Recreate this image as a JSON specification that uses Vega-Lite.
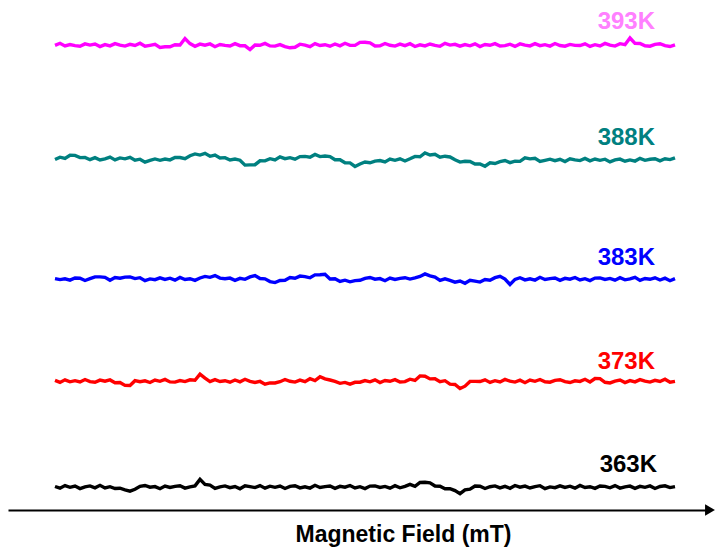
{
  "$schema": "https://vega.github.io/schema/vega-lite/v6.json",
  "width": 702,
  "height": 510,
  "autosize": {"type": "none"},
  "padding": {"left": 8, "right": 7, "top": 0, "bottom": 42},
  "background": "white",
  "config": {"view": {"stroke": null}},
  "datasets": {
    "epr": [
      {"x":55,"a":464.6,"b":350.5,"c":231.4,"d":129.6,"e":23.5},
      {"x":60,"a":466.7,"b":352.8,"c":230.4,"d":127.6,"e":21.8},
      {"x":65,"a":464.0,"b":351.6,"c":231.2,"d":130.2,"e":24.4},
      {"x":70,"a":465.5,"b":354.7,"c":229.9,"d":128.2,"e":22.7},
      {"x":75,"a":464.4,"b":354.6,"c":232.0,"d":129.3,"e":23.9},
      {"x":80,"a":463.7,"b":352.4,"c":231.7,"d":128.0,"e":21.4},
      {"x":85,"a":466.1,"b":352.6,"c":229.5,"d":130.5,"e":23.2},
      {"x":90,"a":464.9,"b":350.3,"c":231.3,"d":128.4,"e":24.1},
      {"x":95,"a":465.9,"b":352.3,"c":233.1,"d":127.7,"e":22.2},
      {"x":100,"a":463.4,"b":350.0,"c":233.1,"d":129.9,"e":24.7},
      {"x":105,"a":465.4,"b":351.1,"c":232.6,"d":128.8,"e":22.0},
      {"x":110,"a":464.1,"b":352.9,"c":229.7,"d":130.1,"e":23.3},
      {"x":115,"a":466.4,"b":350.1,"c":232.5,"d":127.3,"e":21.5},
      {"x":120,"a":464.8,"b":352.1,"c":231.8,"d":127.5,"e":21.8},
      {"x":125,"a":463.9,"b":351.2,"c":232.9,"d":124.6,"e":20.2},
      {"x":130,"a":465.7,"b":352.7,"c":233.0,"d":124.5,"e":18.9},
      {"x":135,"a":464.5,"b":349.8,"c":231.4,"d":129.3,"e":20.7},
      {"x":140,"a":466.8,"b":350.8,"c":232.3,"d":128.3,"e":23.7},
      {"x":145,"a":463.8,"b":347.8,"c":229.4,"d":129.2,"e":24.5},
      {"x":150,"a":464.7,"b":349.6,"c":231.1,"d":127.5,"e":22.8},
      {"x":155,"a":465.6,"b":351.1,"c":230.3,"d":130.0,"e":23.4},
      {"x":160,"a":462.6,"b":349.7,"c":232.2,"d":128.7,"e":21.3},
      {"x":165,"a":463.2,"b":351.0,"c":230.6,"d":130.6,"e":24.0},
      {"x":170,"a":463.2,"b":350.1,"c":231.8,"d":128.1,"e":22.5},
      {"x":175,"a":465.3,"b":352.5,"c":229.8,"d":127.9,"e":23.6},
      {"x":180,"a":465.0,"b":352.5,"c":232.6,"d":129.4,"e":24.3},
      {"x":185,"a":471.5,"b":351.3,"c":230.5,"d":128.4,"e":21.9},
      {"x":190,"a":466.4,"b":354.3,"c":231.3,"d":130.2,"e":23.1},
      {"x":195,"a":463.7,"b":356.1,"c":229.6,"d":129.7,"e":24.1},
      {"x":200,"a":465.9,"b":354.9,"c":232.0,"d":135.8,"e":30.6},
      {"x":205,"a":464.8,"b":356.6,"c":233.6,"d":131.9,"e":25.6},
      {"x":210,"a":466.1,"b":353.7,"c":232.7,"d":128.4,"e":24.9},
      {"x":215,"a":463.3,"b":355.0,"c":234.4,"d":130.4,"e":21.6},
      {"x":220,"a":465.5,"b":352.1,"c":231.9,"d":128.5,"e":23.2},
      {"x":225,"a":464.6,"b":352.4,"c":231.2,"d":129.3,"e":24.1},
      {"x":230,"a":464.0,"b":350.0,"c":231.9,"d":127.8,"e":22.3},
      {"x":235,"a":466.3,"b":350.9,"c":229.7,"d":130.0,"e":23.5},
      {"x":240,"a":464.3,"b":349.8,"c":231.7,"d":128.2,"e":21.2},
      {"x":245,"a":464.2,"b":344.9,"c":230.7,"d":130.7,"e":24.2},
      {"x":250,"a":460.5,"b":345.1,"c":233.1,"d":128.6,"e":23.3},
      {"x":255,"a":465.0,"b":345.3,"c":234.5,"d":127.6,"e":22.4},
      {"x":260,"a":464.7,"b":349.2,"c":231.5,"d":128.6,"e":24.4},
      {"x":265,"a":466.6,"b":349.1,"c":231.2,"d":125.8,"e":21.8},
      {"x":270,"a":464.1,"b":351.3,"c":228.4,"d":127.1,"e":23.8},
      {"x":275,"a":463.9,"b":350.0,"c":227.4,"d":127.0,"e":22.7},
      {"x":280,"a":465.4,"b":353.1,"c":229.5,"d":128.3,"e":24.0},
      {"x":285,"a":463.4,"b":351.3,"c":229.8,"d":130.5,"e":21.5},
      {"x":290,"a":462.2,"b":352.3,"c":232.4,"d":128.7,"e":23.6},
      {"x":295,"a":462.7,"b":350.8,"c":231.7,"d":127.9,"e":24.3},
      {"x":300,"a":465.8,"b":353.4,"c":233.9,"d":129.9,"e":22.1},
      {"x":305,"a":464.9,"b":353.6,"c":233.4,"d":128.4,"e":23.2},
      {"x":310,"a":463.4,"b":352.8,"c":232.2,"d":131.3,"e":21.9},
      {"x":315,"a":466.4,"b":355.6,"c":235.1,"d":129.5,"e":24.7},
      {"x":320,"a":464.5,"b":353.4,"c":235.2,"d":133.2,"e":22.5},
      {"x":325,"a":465.3,"b":354.0,"c":235.7,"d":131.1,"e":23.4},
      {"x":330,"a":463.8,"b":353.4,"c":231.0,"d":130.0,"e":24.0},
      {"x":335,"a":466.0,"b":350.2,"c":231.3,"d":128.6,"e":21.7},
      {"x":340,"a":464.2,"b":350.2,"c":228.5,"d":126.7,"e":23.7},
      {"x":345,"a":466.7,"b":347.2,"c":229.8,"d":127.6,"e":22.8},
      {"x":350,"a":464.6,"b":347.1,"c":228.2,"d":125.9,"e":24.5},
      {"x":355,"a":464.6,"b":343.5,"c":229.4,"d":127.7,"e":22.0},
      {"x":360,"a":467.6,"b":346.0,"c":229.7,"d":127.8,"e":23.3},
      {"x":365,"a":467.8,"b":348.0,"c":231.7,"d":129.4,"e":21.4},
      {"x":370,"a":467.1,"b":347.2,"c":232.5,"d":128.2,"e":23.9},
      {"x":375,"a":464.0,"b":348.9,"c":230.8,"d":130.2,"e":24.1},
      {"x":380,"a":464.3,"b":349.5,"c":231.4,"d":127.4,"e":22.6},
      {"x":385,"a":466.5,"b":348.0,"c":229.3,"d":129.5,"e":23.6},
      {"x":390,"a":464.7,"b":350.9,"c":232.0,"d":128.7,"e":21.8},
      {"x":395,"a":463.9,"b":349.7,"c":230.5,"d":130.4,"e":24.3},
      {"x":400,"a":465.9,"b":351.2,"c":231.6,"d":128.0,"e":22.2},
      {"x":405,"a":464.4,"b":349.0,"c":232.3,"d":128.4,"e":23.6},
      {"x":410,"a":466.3,"b":351.2,"c":230.9,"d":130.8,"e":25.6},
      {"x":415,"a":463.5,"b":353.6,"c":232.1,"d":129.6,"e":23.6},
      {"x":420,"a":465.2,"b":353.2,"c":233.6,"d":134.1,"e":27.5},
      {"x":425,"a":464.1,"b":357.0,"c":236.1,"d":133.8,"e":27.7},
      {"x":430,"a":466.0,"b":355.0,"c":234.1,"d":131.1,"e":27.2},
      {"x":435,"a":464.6,"b":355.8,"c":232.9,"d":131.3,"e":24.0},
      {"x":440,"a":463.7,"b":352.8,"c":229.6,"d":128.3,"e":23.8},
      {"x":445,"a":466.6,"b":353.8,"c":231.2,"d":129.3,"e":21.3},
      {"x":450,"a":464.9,"b":353.0,"c":229.6,"d":125.9,"e":21.4},
      {"x":455,"a":465.7,"b":350.2,"c":227.8,"d":125.5,"e":19.4},
      {"x":460,"a":463.8,"b":347.9,"c":229.0,"d":121.5,"e":16.4},
      {"x":465,"a":465.4,"b":348.7,"c":226.7,"d":123.8,"e":20.2},
      {"x":470,"a":464.2,"b":348.5,"c":229.7,"d":128.6,"e":20.9},
      {"x":475,"a":466.2,"b":346.0,"c":228.8,"d":128.6,"e":24.0},
      {"x":480,"a":463.4,"b":346.1,"c":227.9,"d":128.5,"e":23.7},
      {"x":485,"a":465.5,"b":343.8,"c":230.4,"d":130.2,"e":21.5},
      {"x":490,"a":464.7,"b":347.2,"c":229.8,"d":127.6,"e":23.3},
      {"x":495,"a":466.4,"b":346.5,"c":232.3,"d":129.3,"e":24.1},
      {"x":500,"a":464.0,"b":348.3,"c":233.7,"d":128.1,"e":22.1},
      {"x":505,"a":464.4,"b":349.5,"c":231.0,"d":130.6,"e":23.6},
      {"x":510,"a":465.8,"b":347.4,"c":225.5,"d":128.8,"e":21.7},
      {"x":515,"a":463.6,"b":348.8,"c":230.6,"d":127.9,"e":24.5},
      {"x":520,"a":466.1,"b":348.6,"c":232.3,"d":129.8,"e":22.8},
      {"x":525,"a":464.8,"b":352.1,"c":230.1,"d":127.3,"e":23.9},
      {"x":530,"a":464.1,"b":351.1,"c":231.2,"d":130.0,"e":22.0},
      {"x":535,"a":466.3,"b":351.7,"c":229.9,"d":128.7,"e":23.4},
      {"x":540,"a":464.3,"b":348.6,"c":232.7,"d":130.5,"e":24.3},
      {"x":545,"a":465.3,"b":349.7,"c":230.5,"d":128.2,"e":21.4},
      {"x":550,"a":463.9,"b":350.8,"c":231.4,"d":127.8,"e":23.1},
      {"x":555,"a":466.5,"b":349.3,"c":232.0,"d":129.6,"e":22.3},
      {"x":560,"a":464.5,"b":350.7,"c":229.7,"d":130.3,"e":24.2},
      {"x":565,"a":463.8,"b":348.5,"c":231.7,"d":128.3,"e":22.6},
      {"x":570,"a":465.6,"b":351.2,"c":230.8,"d":127.5,"e":23.8},
      {"x":575,"a":464.6,"b":350.1,"c":232.5,"d":129.2,"e":21.8},
      {"x":580,"a":464.5,"b":349.4,"c":230.0,"d":128.6,"e":24.6},
      {"x":585,"a":466.2,"b":351.6,"c":231.3,"d":130.7,"e":22.5},
      {"x":590,"a":463.6,"b":349.2,"c":229.4,"d":128.0,"e":23.3},
      {"x":595,"a":465.3,"b":351.0,"c":231.9,"d":131.5,"e":21.6},
      {"x":600,"a":464.1,"b":349.7,"c":232.1,"d":131.4,"e":24.0},
      {"x":605,"a":466.6,"b":350.8,"c":230.6,"d":127.7,"e":23.6},
      {"x":610,"a":464.8,"b":348.1,"c":231.6,"d":127.1,"e":22.2},
      {"x":615,"a":463.9,"b":350.1,"c":229.8,"d":128.9,"e":24.4},
      {"x":620,"a":466.3,"b":350.9,"c":232.3,"d":129.9,"e":21.9},
      {"x":625,"a":465.3,"b":348.8,"c":230.2,"d":127.4,"e":23.2},
      {"x":630,"a":472.0,"b":350.1,"c":231.1,"d":129.4,"e":23.9},
      {"x":635,"a":466.7,"b":348.9,"c":232.6,"d":128.1,"e":21.7},
      {"x":640,"a":466.5,"b":351.7,"c":229.6,"d":130.4,"e":23.7},
      {"x":645,"a":464.2,"b":349.7,"c":231.5,"d":128.8,"e":22.7},
      {"x":650,"a":463.8,"b":350.7,"c":230.7,"d":127.9,"e":24.1},
      {"x":655,"a":465.6,"b":351.3,"c":232.2,"d":129.7,"e":21.5},
      {"x":660,"a":466.3,"b":349.1,"c":230.0,"d":128.5,"e":23.5},
      {"x":665,"a":464.3,"b":351.2,"c":231.8,"d":130.8,"e":24.2},
      {"x":670,"a":463.5,"b":350.4,"c":229.3,"d":127.8,"e":22.4},
      {"x":675,"a":465.2,"b":352.2,"c":231.4,"d":128.7,"e":23.4}
    ],
    "labels": [
      {"x":655,"y":488,"t":"393K"},
      {"x":655,"y":372,"t":"388K"},
      {"x":655,"y":252,"t":"383K"},
      {"x":655,"y":148,"t":"373K"},
      {"x":657,"y":45,"t":"363K"}
    ]
  },
  "layer": [
    {
      "data": {"name": "epr"},
      "transform": [{"fold": ["a","b","c","d","e"], "as": ["s","v"]}],
      "mark": {"type": "line", "strokeWidth": 3.4, "strokeJoin": "miter", "strokeCap": "butt"},
      "encoding": {
        "x": {
          "field": "x", "type": "quantitative",
          "scale": {"domain": [8, 710], "nice": false, "zero": false},
          "axis": {
            "title": "Magnetic Field (mT)",
            "ticks": false, "labels": false, "grid": false,
            "domainColor": "#000000", "domainWidth": 2,
            "titleFont": "Liberation Sans", "titleFontSize": 23, "titleFontWeight": "bold",
            "titleColor": "#000000", "titleX": 395, "titleY": 31,
            "titleAlign": "center", "titleBaseline": "alphabetic"
          }
        },
        "y": {
          "field": "v", "type": "quantitative",
          "scale": {"domain": [0, 510], "nice": false, "zero": false},
          "axis": null
        },
        "color": {
          "field": "s", "type": "nominal",
          "scale": {"domain": ["a","b","c","d","e"], "range": ["#ff00ff","#008080","#0000ff","#ff0000","#000000"]},
          "legend": null
        }
      }
    },
    {
      "data": {"name": "labels"},
      "mark": {"type": "text", "align": "right", "baseline": "middle", "font": "Liberation Sans", "fontSize": 24, "fontWeight": "bold"},
      "encoding": {
        "x": {"field": "x", "type": "quantitative"},
        "y": {"field": "y", "type": "quantitative"},
        "text": {"field": "t"},
        "color": {
          "field": "t", "type": "nominal",
          "scale": {"domain": ["393K","388K","383K","373K","363K"], "range": ["#ff80ff","#008080","#0000ff","#ff0000","#000000"]},
          "legend": null
        }
      }
    },
    {
      "data": {"values": [{}]},
      "mark": {"type": "point", "shape": "triangle-right", "filled": true, "size": 130, "color": "#000000", "opacity": 1, "clip": false},
      "encoding": {"x": {"datum": 710}, "y": {"datum": 0}}
    }
  ],
  "resolve": {"scale": {"color": "independent"}}
}
